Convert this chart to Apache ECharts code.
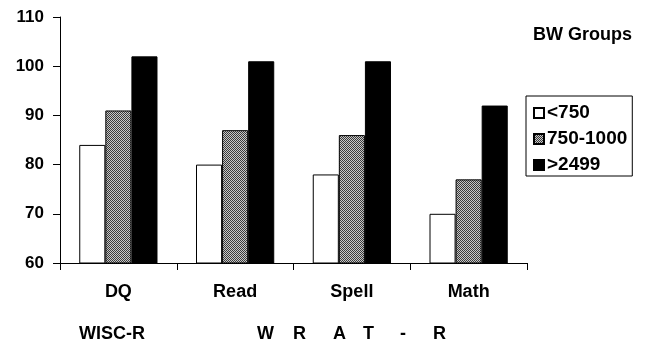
<!DOCTYPE html>
<html>
<head>
<meta charset="utf-8">
<script src="https://cdn.jsdelivr.net/npm/echarts@6/dist/echarts.min.js"></script>
<style>
html, body { margin: 0; padding: 0; background: #fff; }
#main { width: 645px; height: 346px; }
</style>
</head>
<body>
<div id="main"></div>
<script>
// 数据
var categories = ['DQ', 'Read', 'Spell', 'Math'];
var groupNames = ['<750', '750-1000', '>2499'];
var lowBW = [84, 80, 78, 70];
var midBW = [91, 87, 86, 77];
var highBW = [102, 101, 101, 92];
// 底部说明文字
var testLetters = ['W', 'R', 'A', 'T', '-', 'R'];
var letterX = [257, 293, 333, 363, 400, 433];

// 灰色网点纹理
function makePattern() {
    var c = document.createElement('canvas');
    c.width = 4; c.height = 4;
    var ctx = c.getContext('2d');
    ctx.fillStyle = '#c8c8c8';
    ctx.fillRect(0, 0, 4, 4);
    ctx.fillStyle = '#3a3a3a';
    for (var y = 0; y < 4; y++) {
        for (var x = 0; x < 4; x++) {
            if ((x + y) % 2 === 0) ctx.fillRect(x, y, 1, 1);
        }
    }
    return c;
}
var grayFill = { image: makePattern(), repeat: 'repeat' };

var font = 'Liberation Sans, Arial, sans-serif';
var chart = echarts.init(document.getElementById('main'));

function barSeries(name, data, color) {
    return {
        name: name,
        type: 'bar',
        data: data,
        barGap: '0%',
        barCategoryGap: '33%',
        itemStyle: { color: color, borderColor: '#000', borderWidth: 1 },
        emphasis: { disabled: true }
    };
}

var graphics = [
    { type: 'text', left: 533, top: 26, style: { text: 'BW Groups', font: 'bold 18px ' + font, fill: '#000' } },
    { type: 'text', left: 79, top: 325, style: { text: 'WISC-R', font: 'bold 18px ' + font, fill: '#000' } }
];
for (var i = 0; i < testLetters.length; i++) {
    graphics.push({ type: 'text', left: letterX[i], top: 325, style: { text: testLetters[i], font: 'bold 18px ' + font, fill: '#000' } });
}

var option = {
    animation: false,
    backgroundColor: '#fff',
    grid: { left: 60, right: 118, top: 17, bottom: 83 },
    legend: {
        orient: 'vertical',
        left: 526,
        top: 96,
        padding: [7, 5, 1, 7],
        itemGap: 6,
        itemWidth: 10,
        itemHeight: 10,
        icon: 'rect',
        borderColor: '#000',
        borderWidth: 1,
        textStyle: { fontFamily: font, fontWeight: 'bold', fontSize: 19, lineHeight: 20, color: '#000', padding: [0, 0, 0, -2] },
        data: groupNames
    },
    graphic: graphics,
    xAxis: {
        type: 'category',
        data: categories,
        axisLine: { lineStyle: { color: '#000', width: 1 } },
        axisTick: { show: true, length: 7, lineStyle: { color: '#000' } },
        axisLabel: { margin: 20, fontFamily: font, fontWeight: 'bold', fontSize: 18, color: '#000' }
    },
    yAxis: {
        type: 'value',
        min: 60,
        max: 110,
        interval: 10,
        axisLine: { show: true, lineStyle: { color: '#000', width: 1 } },
        axisTick: { show: true, length: 7, lineStyle: { color: '#000' } },
        splitLine: { show: false },
        axisLabel: { margin: 16, fontFamily: font, fontWeight: 'bold', fontSize: 17, color: '#000' }
    },
    series: [
        barSeries(groupNames[0], lowBW, '#fff'),
        barSeries(groupNames[1], midBW, grayFill),
        barSeries(groupNames[2], highBW, '#000')
    ]
};
chart.setOption(option);
</script>
</body>
</html>
